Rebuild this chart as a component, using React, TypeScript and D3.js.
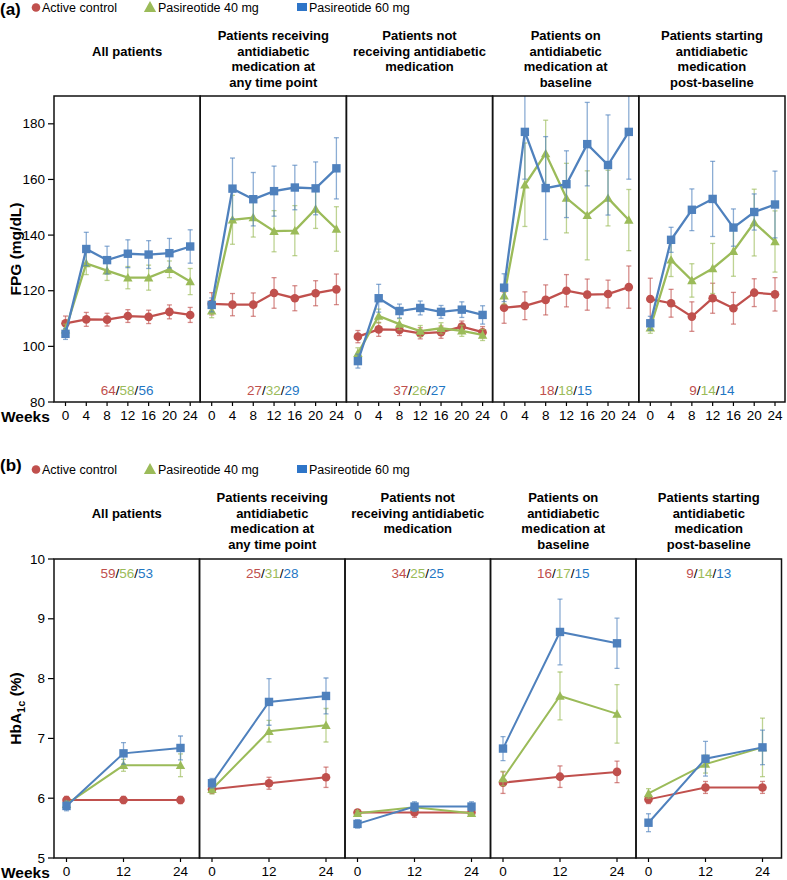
import React from "react";
import * as d3 from "d3";

const RED = "#c0504d";
const GREEN = "#9bbb59";
const BLUE = "#4f81bd";
const NUM_COLORS = ["#c0504d", "#9bbb59", "#1f77c4"];

const panelTitles = [
  ["All patients"],
  ["Patients receiving", "antidiabetic", "medication at", "any time point"],
  ["Patients not", "receiving antidiabetic", "medication"],
  ["Patients on", "antidiabetic", "medication at", "baseline"],
  ["Patients starting", "antidiabetic", "medication", "post-baseline"],
];
const seriesNames = ["Active control", "Pasireotide 40 mg", "Pasireotide 60 mg"];

// (a) FPG, weeks 0-24
const weeksA = [0, 4, 8, 12, 16, 20, 24];
const fpgTicks = [80, 100, 120, 140, 160, 180];
const fpgActive = [
  [108.3, 109.7, 109.6, 110.9, 110.6, 112.4, 111.3],
  [115.3, 115.0, 115.0, 119.2, 117.3, 119.1, 120.5],
  [103.5, 106.1, 105.9, 104.7, 105.1, 107.1, 105.1],
  [113.9, 114.6, 116.7, 120.0, 118.6, 118.8, 121.3],
  [117.0, 115.5, 110.7, 117.3, 113.7, 119.3, 118.7],
];
const fpgActiveErr = [
  [2.6, 2.5, 2.3, 2.3, 2.4, 2.5, 2.7],
  [4, 4, 4.2, 5.5, 4.5, 4.5, 5.5],
  [2.2, 2.5, 2, 2, 2.2, 2, 2],
  [5.6, 5, 5.4, 5.8, 5.6, 5, 7.6],
  [7.5, 5, 5.3, 5.4, 5.7, 5, 6],
];
const fpg40 = [
  [106, 129.8, 127.2, 124.7, 124.7, 127.7, 123.3],
  [112.8, 145.5, 146.3, 141.4, 141.6, 149.4, 142.2],
  [97.5, 110.9, 108.0, 105.5, 106.5, 105.6, 104.1],
  [118.2, 158.1, 169.3, 153.3, 147.1, 153.3, 145.4],
  [106.7, 131.1, 123.7, 128.0, 134.2, 144.5, 137.7],
];
const fpg40Err = [
  [2, 4, 3.5, 4, 4.5, 3, 4.7],
  [2.5, 8.8, 7, 7.4, 9, 7, 8],
  [2, 2.5, 2, 2, 2, 2, 2],
  [3, 15, 12, 12.5, 16, 10, 11],
  [2, 6, 6, 9, 9, 12, 11],
];
const fpg60 = [
  [104.5, 135.0, 131.0, 133.3, 133.0, 133.5, 135.9],
  [114.9, 156.7, 152.9, 155.8, 157.1, 156.8, 164.0],
  [94.7, 117.3, 112.7, 113.8, 112.4, 113.2, 111.3],
  [121.1, 177.1, 156.9, 158.3, 172.7, 165.2, 177.1],
  [108.3, 138.3, 149.1, 153.0, 142.7, 148.3, 151.0],
];
const fpg60Err = [
  [2, 6, 5, 5, 5, 5.3, 6],
  [2.5, 11, 9.6, 9, 8, 9.5, 11],
  [2.5, 5, 2.5, 2.5, 2.3, 2.8, 3.3],
  [5, 17, 18.5, 12, 15, 18, 17],
  [2.5, 4.5, 7.5, 13.5, 6.7, 6.5, 12],
];
const fpgN = [
  ["64", "58", "56"],
  ["27", "32", "29"],
  ["37", "26", "27"],
  ["18", "18", "15"],
  ["9", "14", "14"],
];

// (b) HbA1c, weeks 0, 12, 24
const weeksB = [0, 12, 24];
const hbaTicks = [5, 6, 7, 8, 9, 10];
const hbaActive = [
  [5.97, 5.97, 5.97],
  [6.15, 6.25, 6.35],
  [5.76, 5.76, 5.76],
  [6.26, 6.36, 6.44],
  [5.98, 6.18, 6.18],
];
const hbaActiveErr = [
  [0.06, 0.06, 0.06],
  [0.07, 0.1, 0.17],
  [0.04, 0.08, 0.05],
  [0.18, 0.18, 0.18],
  [0.07, 0.1, 0.1],
];
const hba40 = [
  [5.9, 6.55, 6.55],
  [6.15, 7.12, 7.22],
  [5.75, 5.85, 5.75],
  [6.33, 7.71, 7.41],
  [6.08, 6.57, 6.85],
];
const hba40Err = [
  [0.05, 0.1, 0.19],
  [0.08, 0.18, 0.28],
  [0.04, 0.06, 0.05],
  [0.12, 0.4, 0.49],
  [0.08, 0.15, 0.49],
];
const hba60 = [
  [5.87, 6.75, 6.84],
  [6.25, 7.61, 7.71],
  [5.57, 5.86, 5.86],
  [6.83, 8.78, 8.59],
  [5.59, 6.66, 6.85],
];
const hba60Err = [
  [0.08, 0.18, 0.2],
  [0.08, 0.39, 0.3],
  [0.07, 0.08, 0.08],
  [0.2, 0.55, 0.42],
  [0.15, 0.29, 0.29],
];
const hbaN = [
  ["59", "56", "53"],
  ["25", "31", "28"],
  ["34", "25", "25"],
  ["16", "17", "15"],
  ["9", "14", "13"],
];

const FONT = "'Liberation Sans', Arial, sans-serif";
const LEFT = 54;

function Marker({ kind, x, y, color, s = 1 }) {
  if (kind === 0) return <circle cx={x} cy={y} r={4.3 * s} fill={color} />;
  if (kind === 1) {
    const w = 4.7 * s;
    return <path d={`M${x},${y - w}L${x + w},${y + w * 0.8}L${x - w},${y + w * 0.8}Z`} fill={color} />;
  }
  return <rect x={x - 4.2 * s} y={y - 4.2 * s} width={8.4 * s} height={8.4 * s} fill={color} />;
}

function Section(props) {
  const {
    id, tag, tagY, top, plotTop, plotBottom, panelW, yDomain, yTicks, weeks, xPadL, xPadR,
    means, errs, ns, nY, yLabel, lineW,
  } = props;
  const colors = [RED, GREEN, BLUE];
  const y = d3.scaleLinear().domain(yDomain).range([plotBottom, plotTop]);
  const right = LEFT + panelW * 5;
  const line = (xs) => d3.line().x((d, i) => xs(weeks[i])).y((d) => y(d));

  return (
    <g fontFamily={FONT}>
      <defs>
        <clipPath id={id}>
          <rect x={LEFT} y={plotTop} width={right - LEFT} height={plotBottom - plotTop} />
        </clipPath>
      </defs>
      {/* legend */}
      <text x={0} y={tagY} fontSize={17} fontWeight="bold">{tag}</text>
      <Marker kind={0} x={36} y={top - 4.5} color={RED} />
      <text x={42} y={top} fontSize={12.5}>{seriesNames[0]}</text>
      <Marker kind={1} x={150} y={top - 5} color={GREEN} s={1.3} />
      <text x={158} y={top} fontSize={12.5}>{seriesNames[1]}</text>
      <rect x={297} y={top - 9} width={10} height={8} fill="#2e75c8" />
      <text x={309} y={top} fontSize={12.5}>{seriesNames[2]}</text>

      {/* panel titles */}
      {panelTitles.map((lines, p) => (
        <text key={p} x={LEFT + panelW * (p + 0.5)} textAnchor="middle" fontSize={13} fontWeight="bold">
          {lines.map((t, j) => (
            <tspan key={j} x={LEFT + panelW * (p + 0.5)} y={top + 28 + 15.7 * (lines.length === 1 ? 1 : j)}>
              {t}
            </tspan>
          ))}
        </text>
      ))}

      {/* y axis */}
      {yTicks.map((t) => (
        <g key={t}>
          <line x1={LEFT - 6} x2={LEFT} y1={y(t)} y2={y(t)} stroke="#000" strokeWidth={1.2} />
          <text x={LEFT - 9} y={y(t) + 4.5} textAnchor="end" fontSize={13.5}>{t}</text>
        </g>
      ))}
      <text
        transform={`translate(21,${(plotTop + plotBottom) / 2}) rotate(-90)`}
        textAnchor="middle"
        fontSize={15.5}
        fontWeight="bold"
      >
        {yLabel}
      </text>

      {/* x axes */}
      <text x={1} y={plotBottom + 20} fontSize={15.5} fontWeight="bold">Weeks</text>
      {panelTitles.map((_, p) => {
        const x0 = LEFT + panelW * p;
        const xs = d3.scaleLinear().domain([0, 24]).range([x0 + xPadL, x0 + panelW - xPadR]);
        return (
          <g key={p}>
            {weeks.map((w) => (
              <g key={w}>
                <line x1={xs(w)} x2={xs(w)} y1={plotBottom} y2={plotBottom + 4} stroke="#000" strokeWidth={1.2} />
                <text x={xs(w)} y={plotBottom + 18} textAnchor="middle" fontSize={13.5}>{w}</text>
              </g>
            ))}
          </g>
        );
      })}

      {/* series */}
      <g clipPath={`url(#${id})`}>
        {panelTitles.map((_, p) => {
          const x0 = LEFT + panelW * p;
          const xs = d3.scaleLinear().domain([0, 24]).range([x0 + xPadL, x0 + panelW - xPadR]);
          return (
            <g key={p}>
              {[0, 1, 2].map((s) => (
                <g key={s}>
                  {means[s][p].map((v, i) => {
                    const e = errs[s][p][i];
                    const cx = xs(weeks[i]);
                    return (
                      <g key={i} stroke={colors[s]} strokeOpacity={0.65} strokeWidth={1.3}>
                        <line x1={cx} x2={cx} y1={y(v - e)} y2={y(v + e)} />
                        <line x1={cx - 2.5} x2={cx + 2.5} y1={y(v - e)} y2={y(v - e)} />
                        <line x1={cx - 2.5} x2={cx + 2.5} y1={y(v + e)} y2={y(v + e)} />
                      </g>
                    );
                  })}
                  <path d={line(xs)(means[s][p])} fill="none" stroke={colors[s]} strokeWidth={lineW} />
                  {means[s][p].map((v, i) => (
                    <Marker key={i} kind={s} x={xs(weeks[i])} y={y(v)} color={colors[s]} />
                  ))}
                </g>
              ))}
            </g>
          );
        })}
      </g>

      {/* N counts */}
      {ns.map((trio, p) => (
        <text key={p} x={LEFT + panelW * (p + 0.5)} y={nY} textAnchor="middle" fontSize={13.5}>
          <tspan fill={NUM_COLORS[0]}>{trio[0]}</tspan>
          <tspan fill="#000">/</tspan>
          <tspan fill={NUM_COLORS[1]}>{trio[1]}</tspan>
          <tspan fill="#000">/</tspan>
          <tspan fill={NUM_COLORS[2]}>{trio[2]}</tspan>
        </text>
      ))}

      {/* frames */}
      {panelTitles.map((_, p) => (
        <rect
          key={p}
          x={LEFT + panelW * p}
          y={plotTop}
          width={panelW}
          height={plotBottom - plotTop}
          fill="none"
          stroke="#111"
          strokeWidth={1.5}
        />
      ))}
    </g>
  );
}

export default function App() {
  return (
    <svg width={787} height={880} style={{ display: "block", position: "absolute", left: 0, top: 0, background: "#fff" }}>
      <Section
        id="clipA"
        tag="(a)"
        tagY={15}
        top={12}
        plotTop={96}
        plotBottom={402}
        panelW={146.2}
        yDomain={[80, 190]}
        yTicks={fpgTicks}
        weeks={weeksA}
        xPadL={11.5}
        xPadR={10}
        means={[fpgActive, fpg40, fpg60]}
        errs={[fpgActiveErr, fpg40Err, fpg60Err]}
        ns={fpgN}
        nY={395}
        yLabel="FPG (mg/dL)"
        lineW={2.3}
      />
      <Section
        id="clipB"
        tag="(b)"
        tagY={471}
        top={474}
        plotTop={559}
        plotBottom={858}
        panelW={145.5}
        yDomain={[5, 10]}
        yTicks={hbaTicks}
        weeks={weeksB}
        xPadL={12.5}
        xPadR={19}
        means={[hbaActive, hba40, hba60]}
        errs={[hbaActiveErr, hba40Err, hba60Err]}
        ns={hbaN}
        nY={578}
        yLabel={
          <>
            HbA<tspan dy={4} fontSize={11}>1c</tspan>
            <tspan dy={-4}> (%)</tspan>
          </>
        }
        lineW={2}
      />
    </svg>
  );
}
